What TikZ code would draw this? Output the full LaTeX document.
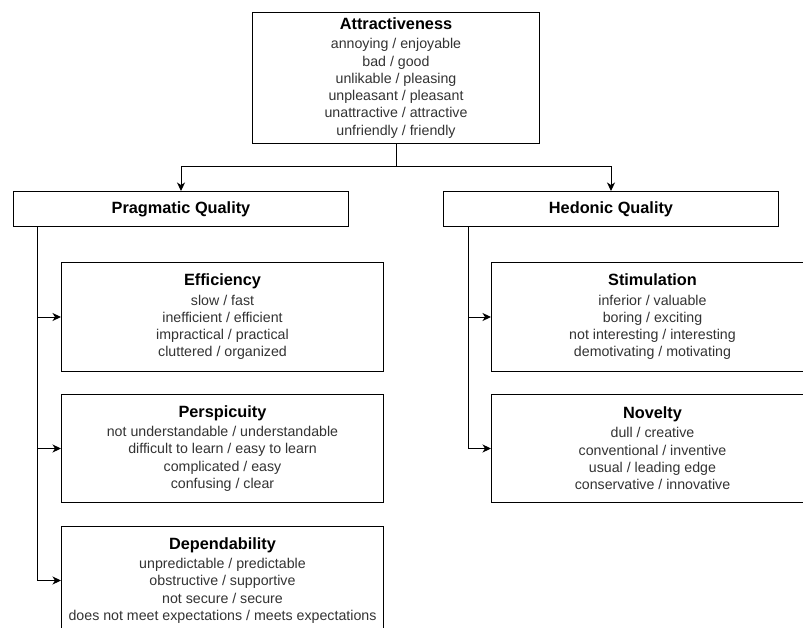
\documentclass[tikz,border=0pt]{standalone}
\usepackage{fontspec}
\setmainfont{Liberation Sans}
\usetikzlibrary{arrows.meta,calc}
\definecolor{itemgray}{RGB}{51,51,51}
\definecolor{linecol}{RGB}{0,0,0}
\newcommand{\boxtitle}[1]{{\fontsize{16.3}{17.3}\selectfont\bfseries\color{black}#1}}
\begin{document}
\begin{tikzpicture}[x=1pt,y=-1pt,
  box/.style={draw=linecol, line width=1pt, rectangle, inner sep=0pt, align=center,
    anchor=north west, text=itemgray, font=\fontsize{14.2}{17.3}\selectfont},
  arr/.style={draw=linecol, line width=1pt, -{Stealth[length=8.5pt,width=8pt,inset=2.5pt]}},
  conn/.style={draw=linecol, line width=1pt}]
\useasboundingbox (0,0) rectangle (803,628);
\clip (0,0) rectangle (803,628);
\fill[white] (0,0) rectangle (803,628);

\node[box, minimum width=287pt, minimum height=131pt] (attr) at (252,12)
  {\boxtitle{Attractiveness}\\[1.8pt]annoying / enjoyable\\bad / good\\unlikable / pleasing\\unpleasant / pleasant\\unattractive / attractive\\unfriendly / friendly};

\node[box, minimum width=335pt, minimum height=35pt] (prag) at (13,191) {\boxtitle{Pragmatic Quality}};
\node[box, minimum width=335pt, minimum height=35pt] (hed) at (443,191) {\boxtitle{Hedonic Quality}};

\node[box, minimum width=322pt, minimum height=109pt] (eff) at (61,262)
  {\boxtitle{Efficiency}\\[1.8pt]slow / fast\\inefficient / efficient\\impractical / practical\\cluttered / organized};
\node[box, minimum width=322pt, minimum height=108pt] (persp) at (61,394)
  {\boxtitle{Perspicuity}\\[1.8pt]not understandable / understandable\\difficult to learn / easy to learn\\complicated / easy\\confusing / clear};
\node[box, minimum width=322pt, minimum height=108pt] (dep) at (61,526)
  {\boxtitle{Dependability}\\[1.8pt]unpredictable / predictable\\obstructive / supportive\\not secure / secure\\does not meet expectations / meets expectations};

\node[box, minimum width=322pt, minimum height=109pt] (stim) at (491,262)
  {\boxtitle{Stimulation}\\[1.8pt]inferior / valuable\\boring / exciting\\not interesting / interesting\\demotivating / motivating};
\node[box, minimum width=322pt, minimum height=108pt] (nov) at (491,394)
  {\boxtitle{Novelty}\\[1.8pt]dull / creative\\conventional / inventive\\usual / leading edge\\conservative / innovative};

\coordinate (j) at ($(attr.south)+(0,23)$);
\draw[conn] (attr.south) -- (j);
\draw[arr] (j) -| (prag.north);
\draw[arr] (j) -| (hed.north);

\coordinate (pl) at ([xshift=24pt]prag.south west);
\coordinate (hl) at ([xshift=25pt]hed.south west);
\draw[arr] (pl) |- (eff.west);
\draw[arr] (pl) |- (persp.west);
\draw[arr] (pl) |- (dep.west);
\draw[arr] (hl) |- (stim.west);
\draw[arr] (hl) |- (nov.west);
\end{tikzpicture}
\end{document}
